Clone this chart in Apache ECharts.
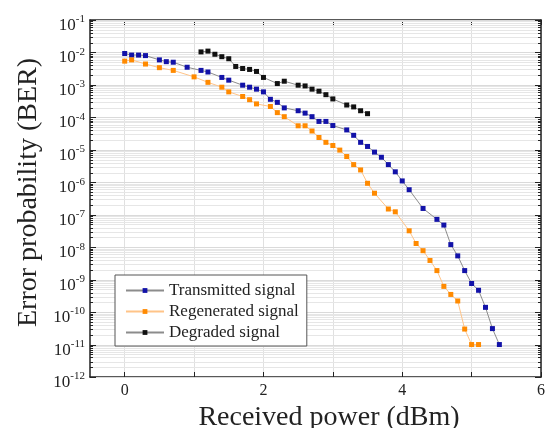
<!DOCTYPE html>
<html><head><meta charset="utf-8">
<script src="https://cdn.jsdelivr.net/npm/echarts@6/dist/echarts.min.js"></script>
<style>html,body{margin:0;padding:0;background:#fff}#c{width:548px;height:428px}</style>
</head><body><div id="c"></div>
<script>
// ---- data ----
const xTickValues = [0, 1, 2, 3, 4, 5, 6];
const xLabelValues = [0, 2, 4, 6];
const yDecades = [1e-12, 1e-11, 1e-10, 1e-9, 1e-8, 1e-7, 1e-6, 1e-5, 1e-4, 1e-3, 1e-2, 1e-1];

const transmittedPower = [0,0.1,0.2,0.3,0.5,0.6,0.7,0.9,1.1,1.2,1.4,1.5,1.7,1.8,1.9,2.0,2.1,2.2,2.3,2.5,2.6,2.7,2.8,2.9,3.0,3.2,3.3,3.4,3.5,3.6,3.7,3.8,3.9,4.0,4.1,4.3,4.5,4.6,4.7,4.8,4.9,5.0,5.1,5.2,5.3,5.4];
const transmittedBER = [9.3e-3,8.3e-3,8.3e-3,8.0e-3,5.9e-3,5.2e-3,5.0e-3,3.5e-3,2.8e-3,2.5e-3,1.7e-3,1.4e-3,9.8e-4,8.5e-4,7.4e-4,6.1e-4,3.6e-4,2.9e-4,1.96e-4,1.6e-4,1.35e-4,1.05e-4,7.5e-5,7.5e-5,5.6e-5,4.1e-5,2.8e-5,1.7e-5,1.27e-5,8.5e-6,5.9e-6,3.5e-6,2.1e-6,1.1e-6,5.9e-7,1.56e-7,7.2e-8,4.8e-8,1.2e-8,5.4e-9,1.9e-9,7.6e-10,4.7e-10,1.4e-10,3.1e-11,1e-11];

const regeneratedPower = [0,0.1,0.3,0.5,0.7,1.0,1.2,1.4,1.5,1.7,1.8,1.9,2.1,2.2,2.3,2.5,2.6,2.7,2.8,2.9,3.0,3.1,3.2,3.3,3.4,3.5,3.6,3.8,3.9,4.1,4.2,4.3,4.4,4.5,4.6,4.7,4.8,4.9,5.0,5.1];
const regeneratedBER = [5.4e-3,5.9e-3,4.4e-3,3.4e-3,2.8e-3,1.77e-3,1.2e-3,8.5e-4,6.1e-4,4.4e-4,3.5e-4,2.6e-4,2.16e-4,1.4e-4,1.05e-4,5.5e-5,5.5e-5,3.8e-5,2.4e-5,1.7e-5,1.36e-5,9.8e-6,6.2e-6,3.5e-6,2.4e-6,9.3e-7,4.6e-7,1.5e-7,1.23e-7,3.2e-8,1.3e-8,7.8e-9,3.9e-9,1.9e-9,6.2e-10,3.5e-10,2.2e-10,3e-11,1e-11,1e-11];

const degradedPower = [1.1,1.2,1.3,1.4,1.5,1.6,1.7,1.8,1.9,2.0,2.2,2.3,2.5,2.6,2.7,2.8,2.9,3.0,3.2,3.3,3.4,3.5];
const degradedBER = [1.04e-2,1.1e-2,8.8e-3,7.4e-3,6.4e-3,3.7e-3,3.2e-3,3.0e-3,2.6e-3,1.7e-3,1.1e-3,1.3e-3,9.8e-4,9.3e-4,7.4e-4,6.4e-4,5.0e-4,3.7e-4,2.4e-4,2.1e-4,1.6e-4,1.3e-4];

const seriesNames = ['Transmitted signal', 'Regenerated signal', 'Degraded signal'];
const xAxisTitle = 'Received power (dBm)';
const yAxisTitle = 'Error probability (BER)';

// ---- build ----
const FONT = '"Liberation Serif", "DejaVu Serif", serif';
const X_MIN = -0.5, X_MAX = 6;
const pairs = (xs, ys) => xs.map((x, i) => [x, ys[i]]);

// log grid positions: decades and minor (2..9 x 10^n) within the axis range
const logGrid = [];
for (let i = 0; i < yDecades.length; i++) {
  logGrid.push([X_MIN, yDecades[i], 1]);
  if (i < yDecades.length - 1) for (let k = 2; k <= 9; k++) logGrid.push([X_MIN, k * yDecades[i], 0]);
}

const chart = echarts.init(document.getElementById('c'), null, {renderer: 'canvas'});
const lineSeries = (name, data, mark, line) => ({
  name, type: 'line', data, symbol: 'rect', symbolSize: 5, showAllSymbol: true,
  itemStyle: {color: mark}, lineStyle: {color: line, width: 1},
  emphasis: {disabled: true}, z: 5, clip: false
});

chart.setOption({
  animation: false,
  backgroundColor: '#fff',
  grid: {left: 90, right: 7, top: 20, bottom: 51, outerBoundsMode: 'none', containLabel: false},
  legend: {
    orient: 'vertical', left: 115, top: 275,
    data: seriesNames,
    itemWidth: 38, itemHeight: 6, itemGap: 4,
    padding: [7, 8, 5, 10],
    backgroundColor: '#fff', borderColor: '#555', borderWidth: 1,
    textStyle: {fontFamily: FONT, fontSize: 17, color: '#222'}
  },
  xAxis: [{
    type: 'value', min: X_MIN, max: X_MAX, position: 'bottom',
    name: xAxisTitle, nameLocation: 'middle', nameGap: 19,
    nameTextStyle: {fontFamily: FONT, fontSize: 28, color: '#222', padding: [0, 0, 0, 27]},
    axisLine: {show: true, onZero: false, lineStyle: {color: '#222', width: 1.5}},
    axisTick: {show: true, inside: true, length: 5, customValues: xTickValues, lineStyle: {color: '#222'}},
    axisLabel: {customValues: xLabelValues, fontFamily: FONT, fontSize: 16, color: '#222', margin: 6},
    splitLine: {show: true, lineStyle: {color: '#e0e0e0', width: 1}}
  }, {
    type: 'value', min: X_MIN, max: X_MAX, position: 'top',
    axisLine: {show: true, onZero: false, lineStyle: {color: '#222', width: 1.5}},
    axisTick: {show: true, inside: true, length: 5, customValues: xTickValues, lineStyle: {color: '#222'}},
    axisLabel: {show: false}, splitLine: {show: false}
  }],
  yAxis: [{
    type: 'log', logBase: 10, min: 1e-12, max: 1e-1, interval: 1, position: 'left',
    name: yAxisTitle, nameLocation: 'middle', nameGap: 47, nameRotate: 90,
    nameTextStyle: {fontFamily: FONT, fontSize: 28, color: '#222', padding: [0, 0, 0, 12]},
    axisLine: {show: true, onZero: false, lineStyle: {color: '#222', width: 1.5}},
    axisTick: {show: false},
    axisLabel: {
      margin: 5, color: '#222', hideOverlap: false, showMinLabel: true, showMaxLabel: true,
      padding: [8, 0, 0, 0],
      formatter: v => '{b|10}{s|' + Math.round(Math.log10(v)) + '}',
      rich: {
        b: {fontFamily: FONT, fontSize: 17, lineHeight: 20, verticalAlign: 'bottom', color: '#222'},
        s: {fontFamily: FONT, fontSize: 11, lineHeight: 20, verticalAlign: 'top', color: '#222'}
      }
    },
    splitLine: {show: false}
  }, {
    type: 'log', logBase: 10, min: 1e-12, max: 1e-1, interval: 1, position: 'right',
    axisLine: {show: true, onZero: false, lineStyle: {color: '#222', width: 1.5}},
    axisTick: {show: false},
    axisLabel: {show: false}, splitLine: {show: false}
  }],
  series: [
    {
      name: 'log grid', type: 'custom', data: logGrid, silent: true, z: 1, clip: false,
      encode: {x: 0, y: 1},
      renderItem(params, api) {
        const v = api.value(1);
        const major = api.value(2) === 1;
        const a = api.coord([X_MIN, v]);
        const b = api.coord([X_MAX, v]);
        const y = Math.round(a[1]) + 0.5;
        const l = Math.round(a[0]), r = Math.round(b[0]);
        const t = major ? 6 : 3;
        return {type: 'group', children: [
          {type: 'line', shape: {x1: l, y1: y, x2: r, y2: y}, style: {stroke: major ? '#dadada' : '#e6e6e6', lineWidth: 1}},
          {type: 'line', shape: {x1: l, y1: y, x2: l + t, y2: y}, style: {stroke: '#222', lineWidth: 1}},
          {type: 'line', shape: {x1: r - t, y1: y, x2: r, y2: y}, style: {stroke: '#222', lineWidth: 1}}
        ]};
      }
    },
    lineSeries(seriesNames[0], pairs(transmittedPower, transmittedBER), '#1212a8', '#8c8c8c'),
    lineSeries(seriesNames[1], pairs(regeneratedPower, regeneratedBER), '#ff8a00', '#ffc488'),
    lineSeries(seriesNames[2], pairs(degradedPower, degradedBER), '#111111', '#8c8c8c')
  ]
});
</script></body></html>
